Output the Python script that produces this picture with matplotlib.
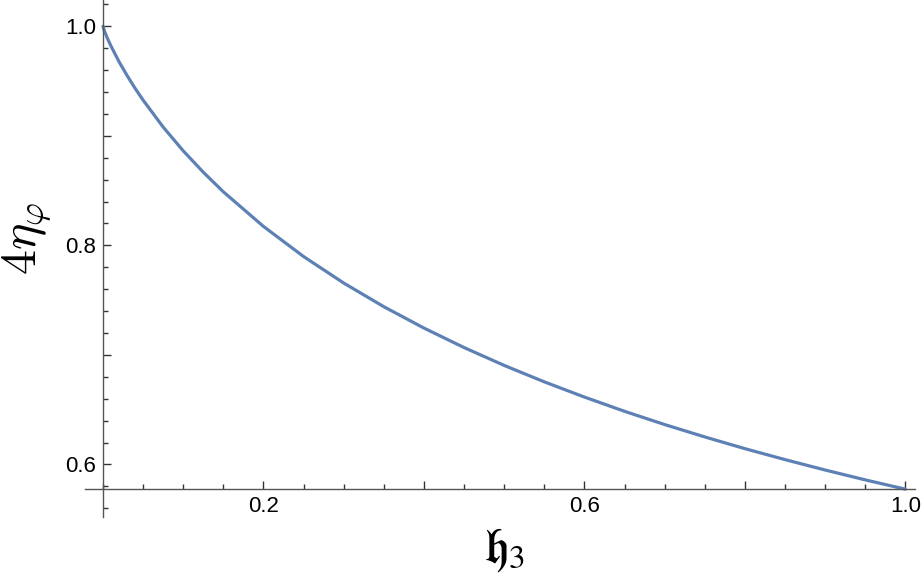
import matplotlib.pyplot as plt
from matplotlib.ticker import FixedLocator, MultipleLocator

# curve values (smoothed estimates)
h3 = [0.0, 0.002, 0.005, 0.01, 0.02, 0.03, 0.04, 0.05, 0.075, 0.1, 0.125,
      0.15, 0.2, 0.25, 0.3, 0.35, 0.4, 0.45, 0.5, 0.55, 0.6, 0.65, 0.7,
      0.75, 0.8, 0.85, 0.9, 0.95, 1.0]
eta = [1.0, 0.9954, 0.9899, 0.9819, 0.9677, 0.9551, 0.9434, 0.9326, 0.9080,
       0.8863, 0.8668, 0.8489, 0.8173, 0.7898, 0.7656, 0.7440, 0.7245,
       0.7067, 0.6904, 0.6754, 0.6615, 0.6485, 0.6364, 0.6251, 0.6144,
       0.6044, 0.5949, 0.5859, 0.5774]

xticks = [0.2, 0.4, 0.6, 0.8, 1.0]
xticklabels = ["0.2", "", "0.6", "", "1.0"]
yticks = [0.6, 0.7, 0.8, 0.9, 1.0]
yticklabels = ["0.6", "", "0.8", "", "1.0"]

fig = plt.figure(figsize=(9.24, 5.75), dpi=100)
ax = fig.add_axes([85 / 924, 58 / 575, 830 / 924, 517 / 575])

ax.plot(h3, eta, color="#5E81B5", lw=2.3, solid_capstyle="round", clip_on=False)

ax.set_xlim(-0.0224, 1.012)
ax.set_ylim(0.552, 1.024)

for side in ["top", "right"]:
    ax.spines[side].set_visible(False)
ax.spines["left"].set_position(("data", 0.0))
ax.spines["bottom"].set_position(("data", 0.5774))
for side in ["left", "bottom"]:
    ax.spines[side].set_color("#555555")
    ax.spines[side].set_linewidth(1.0)

ax.xaxis.set_major_locator(FixedLocator(xticks))
ax.set_xticklabels(xticklabels)
ax.xaxis.set_minor_locator(MultipleLocator(0.05))
ax.yaxis.set_major_locator(FixedLocator(yticks))
ax.set_yticklabels(yticklabels)
ax.yaxis.set_minor_locator(MultipleLocator(0.02))

ax.tick_params(which="both", direction="in", color="#333333", width=1.0,
               labelsize=16, pad=5)
ax.tick_params(which="major", length=6)
ax.tick_params(which="minor", length=3.5)
for lab in ax.get_xticklabels() + ax.get_yticklabels():
    lab.set_family("Liberation Sans")

fig.text(504 / 924, 1 - 550 / 575, r"$\mathfrak{h}_3$", fontsize=34,
         math_fontfamily="stix", ha="center", va="center")
fig.text(27 / 924, 1 - 238 / 575, r"$4\eta_\varphi$", fontsize=36,
         math_fontfamily="cm", ha="center", va="center", rotation=90)

fig.savefig("out.png", dpi=100)
